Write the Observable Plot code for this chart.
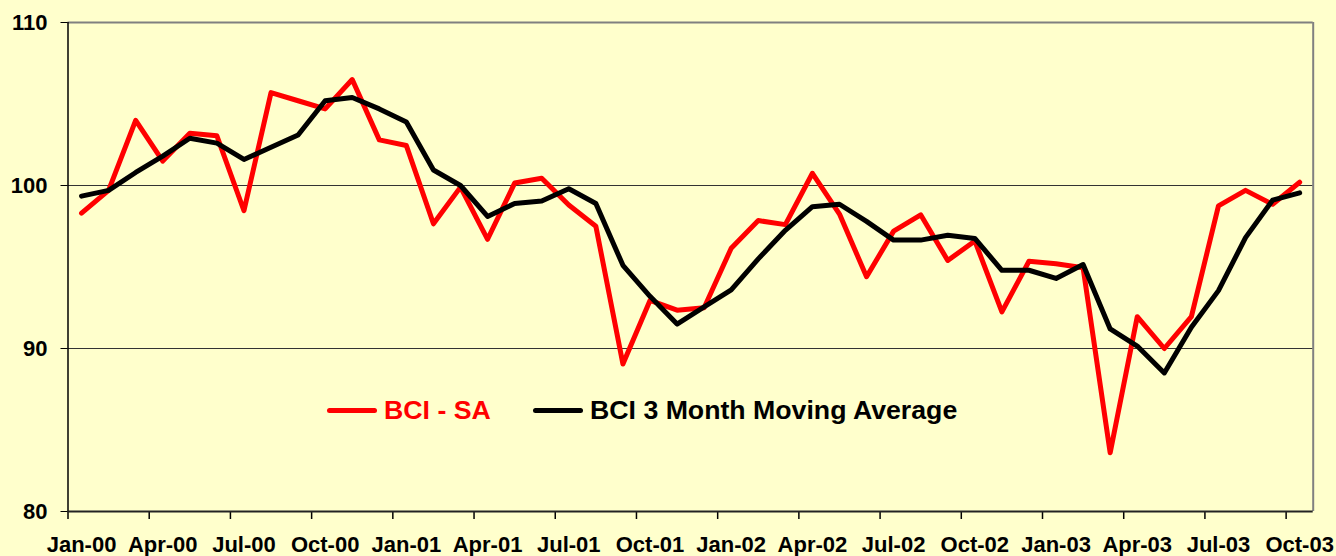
<!DOCTYPE html>
<html>
<head>
<meta charset="utf-8">
<script src="https://cdn.jsdelivr.net/npm/d3@7"></script>
<script src="https://cdn.jsdelivr.net/npm/@observablehq/plot@0.6"></script>
<style>
  html, body { margin: 0; padding: 0; background: #FFFFCC; }
  #wrap { position: relative; width: 1336px; height: 556px; background: #FFFFCC; font-family: "Liberation Sans", Arial, sans-serif; }
  #legend { position: absolute; left: 0; top: 0; width: 1336px; height: 0; }
  .item { position: absolute; display: flex; align-items: center; font-weight: bold; font-size: 26.7px; height: 30px; }
  .swatch { width: 50px; height: 5px; border-radius: 3px; margin-right: 7px; }
</style>
</head>
<body>
<div id="wrap">
  <div id="chart"></div>
  <div id="legend"></div>
</div>
<script>
const months = [
  "Jan-00","Feb-00","Mar-00","Apr-00","May-00","Jun-00","Jul-00","Aug-00","Sep-00","Oct-00","Nov-00","Dec-00",
  "Jan-01","Feb-01","Mar-01","Apr-01","May-01","Jun-01","Jul-01","Aug-01","Sep-01","Oct-01","Nov-01","Dec-01",
  "Jan-02","Feb-02","Mar-02","Apr-02","May-02","Jun-02","Jul-02","Aug-02","Sep-02","Oct-02","Nov-02","Dec-02",
  "Jan-03","Feb-03","Mar-03","Apr-03","May-03","Jun-03","Jul-03","Aug-03","Sep-03","Oct-03"
];
const bciSA = [
  98.3, 99.7, 104.0, 101.5, 103.2, 103.05, 98.45, 105.7, 105.2, 104.7, 106.5, 102.8,
  102.45, 97.65, 99.9, 96.7, 100.15, 100.45, 98.8, 97.5, 89.05, 92.95, 92.35, 92.5,
  96.15, 97.85, 97.6, 100.75, 98.25, 94.4, 97.2, 98.2, 95.4, 96.6, 92.25, 95.35,
  95.2, 94.95, 83.6, 91.95, 90.0, 91.95, 98.75, 99.7, 98.85, 100.2
];
const bciMA = [
  99.35, 99.7, 100.8, 101.8, 102.9, 102.6, 101.6, 102.35, 103.1, 105.2, 105.4, 104.7,
  103.9, 100.95, 100.0, 98.1, 98.9, 99.05, 99.8, 98.9, 95.1, 93.2, 91.5, 92.55,
  93.6, 95.5, 97.25, 98.7, 98.85, 97.8, 96.65, 96.65, 96.95, 96.75, 94.8, 94.8,
  94.3, 95.15, 91.2, 90.15, 88.5, 91.3, 93.55, 96.8, 99.1, 99.55
];
const yTicks = [80, 90, 100, 110];
const gridValues = [90, 100];
const legendItems = [
  {label: "BCI - SA", color: "#FF0000"},
  {label: "BCI 3 Month Moving Average", color: "#000000"}
];

const idx = months.map((_, i) => i);
const saData = idx.map(i => ({i, v: bciSA[i]}));
const maData = idx.map(i => ({i, v: bciMA[i]}));
const labelIdx = idx.filter(i => i % 3 === 0);
const tickPos = labelIdx.map(i => i - 0.5);
const n = months.length;

const chart = Plot.plot({
  width: 1336,
  height: 556,
  marginLeft: 67.5,
  marginRight: 23.3,
  marginTop: 22,
  marginBottom: 45,
  style: {background: "#FFFFCC", fontFamily: "'Liberation Sans', Arial, sans-serif", fontWeight: "bold", fontSize: "22px", color: "#000", overflow: "visible"},
  x: {type: "linear", domain: [-0.5, n - 0.5], axis: null},
  y: {domain: [80, 110], axis: null},
  marks: [
    Plot.ruleY(gridValues, {stroke: "#333", strokeWidth: 1}),
    Plot.ruleY([110], {stroke: "#808080", strokeWidth: 2}),
    Plot.ruleX([n - 0.5], {stroke: "#808080", strokeWidth: 2}),
    Plot.axisY({ticks: yTicks, label: null, tickSize: 7, tickFormat: () => "", stroke: "#000"}),
    Plot.text(yTicks, {x: () => -0.5, y: d => d, text: d => String(d), dx: -20.5, textAnchor: "end", lineAnchor: "middle", fontSize: 22, fontWeight: "bold", fill: "#000"}),
    Plot.axisX({ticks: tickPos, label: null, tickSize: 8, tickFormat: () => "", stroke: "#000", strokeWidth: 1.5}),
    Plot.text(labelIdx, {x: d => d, y: () => 80, text: d => months[d], dy: 33, lineAnchor: "middle", fontSize: 22, fontWeight: "bold", fill: "#000"}),
    Plot.line(saData, {x: "i", y: "v", stroke: "#FF0000", strokeWidth: 5, strokeLinejoin: "round", strokeLinecap: "round"}),
    Plot.line(maData, {x: "i", y: "v", stroke: "#000000", strokeWidth: 5, strokeLinejoin: "round", strokeLinecap: "round"}),
    Plot.ruleX([-0.5], {stroke: "#000", strokeWidth: 1.5}),
    Plot.ruleY([80], {stroke: "#222", strokeWidth: 2})
  ]
});
document.getElementById("chart").appendChild(chart);

const legend = document.getElementById("legend");
const lefts = [327, 533];
legendItems.forEach((d, k) => {
  const el = document.createElement("div");
  el.className = "item";
  el.style.left = lefts[k] + "px";
  el.style.top = "395px";
  el.style.color = d.color;
  const sw = document.createElement("div");
  sw.className = "swatch";
  sw.style.background = d.color;
  el.appendChild(sw);
  const t = document.createElement("span");
  t.textContent = d.label;
  el.appendChild(t);
  legend.appendChild(el);
});
</script>
</body>
</html>
